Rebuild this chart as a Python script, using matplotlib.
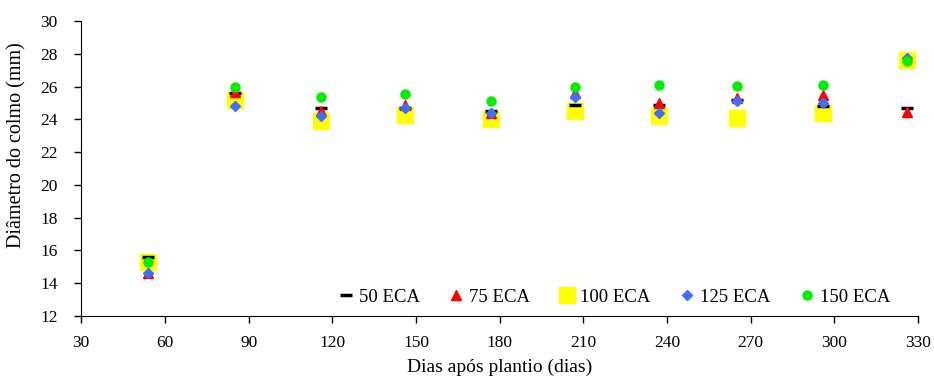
import matplotlib.pyplot as plt

plt.rcParams['font.family'] = ['Liberation Serif', 'DejaVu Serif']

# dias apos plantio
dias = [54, 85, 116, 146, 177, 207, 237, 265, 296, 326]

eca_50 = [15.6, 25.6, 24.7, 24.7, 24.5, 24.9, 24.9, 25.2, 24.8, 24.7]
eca_75 = [14.6, 25.7, 24.5, 24.9, 24.4, 25.6, 25.0, 25.3, 25.5, 24.45]
eca_100 = [15.3, 25.2, 23.9, 24.3, 24.0, 24.5, 24.2, 24.1, 24.4, 27.6]
eca_125 = [14.6, 24.8, 24.2, 24.7, 24.4, 25.4, 24.4, 25.1, 25.0, 27.75]
eca_150 = [15.3, 26.0, 25.4, 25.55, 25.1, 26.0, 26.1, 26.05, 26.1, 27.55]

x_ticks = list(range(30, 331, 30))
y_ticks = list(range(12, 31, 2))

fig = plt.figure(figsize=(9.34, 3.78), dpi=100)
ax = fig.add_axes([0.087, 0.164, 0.896, 0.780])

ax.plot(dias, eca_100, linestyle='none', marker='s', ms=11, color='#ffff00',
        mec='#ffff00', label='100 ECA', zorder=2)
ax.plot(dias, eca_50, linestyle='none', marker='_', ms=8, mew=2.5,
        color='black', label='50 ECA', zorder=3)
ax.plot(dias, eca_75, linestyle='none', marker='^', ms=7.5, color='#ff0000',
        mec='#ff0000', label='75 ECA', zorder=4)
ax.plot(dias, eca_125, linestyle='none', marker='D', ms=5.5, color='#3f6fff',
        mec='#3f6fff', label='125 ECA', zorder=5)
ax.plot(dias, eca_150, linestyle='none', marker='o', ms=6.5, color='#00ee00',
        mec='#00ee00', label='150 ECA', zorder=6)

ax.set_xlim(30, 330)
ax.set_ylim(12, 30)
ax.set_xticks(x_ticks)
ax.set_yticks(y_ticks)
ax.tick_params(labelsize=12.5, direction='out', length=5, width=1, colors='black')
ax.tick_params(axis='x', pad=9)
ax.tick_params(axis='y', pad=12)
ax.spines['top'].set_visible(False)
ax.spines['right'].set_visible(False)

ax.set_xlabel('Dias após plantio (dias)', fontsize=14)
ax.set_ylabel('Diâmetro do colmo (mm)', fontsize=14.5)
ax.xaxis.set_label_coords(0.5, -0.146)
ax.yaxis.set_label_coords(-0.066, 0.58)

handles, labels = ax.get_legend_handles_labels()
order = [1, 2, 0, 3, 4]
ax.legend([handles[i] for i in order], [labels[i] for i in order],
          loc='center right', bbox_to_anchor=(0.967, 0.064), ncol=5,
          frameon=False, fontsize=13.5, handletextpad=0.2, columnspacing=1.45,
          handlelength=1.0, borderpad=0, borderaxespad=0)

plt.savefig('out.png', dpi=100)
